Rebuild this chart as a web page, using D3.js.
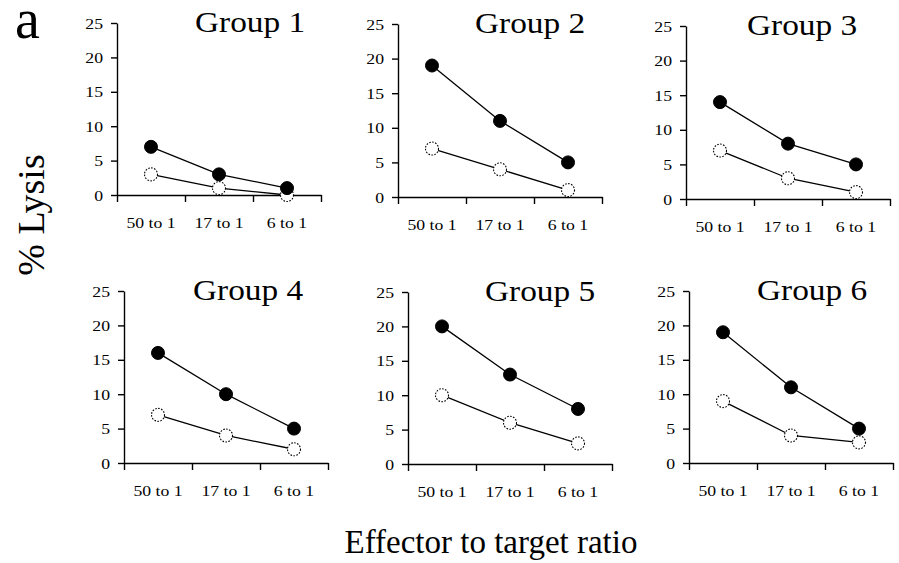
<!DOCTYPE html>
<html>
<head>
<meta charset="utf-8">
<script src="https://cdn.jsdelivr.net/npm/d3@7"></script>
<style>
  body { margin: 0; background: #fff; }
  svg text { font-family: "Liberation Serif", "Times New Roman", serif; fill: #000; }
</style>
</head>
<body>
<svg id="chart" width="899" height="563"></svg>
<script>
// data
var groups = ["Group 1", "Group 2", "Group 3", "Group 4", "Group 5", "Group 6"];
var ratios = ["50 to 1", "17 to 1", "6 to 1"];
var yTicks = [0, 5, 10, 15, 20, 25];
var filledVals = [
  [7, 3, 1],
  [19, 11, 5],
  [14, 8, 5],
  [16, 10, 5],
  [20, 13, 8],
  [19, 11, 5]
];
var openVals = [
  [3, 1, 0],
  [7, 4, 1],
  [7, 3, 1],
  [7, 4, 2],
  [10, 6, 3],
  [9, 4, 3]
];

// panel layout: left, right, top (25), bottom (0), title offset
var layout = [
  {x0: 117, x1: 321, top: 23, bot: 195, tx: 78},
  {x0: 398, x1: 602, top: 24, bot: 197, tx: 77},
  {x0: 686, x1: 890, top: 26, bot: 199, tx: 61},
  {x0: 124, x1: 328, top: 291, bot: 463, tx: 69},
  {x0: 408, x1: 612, top: 292, bot: 464, tx: 77},
  {x0: 689, x1: 893, top: 291, bot: 463, tx: 68}
];

var svg = d3.select("#chart"),
    sx = 1.18,   // the figure is stretched sideways
    r = 6.5;

groups.forEach(function (name, i) {
  var p = layout[i];
  var g = svg.append("g");

  var y = d3.scaleLinear().domain([0, 25]).range([p.bot, p.top]);
  var xb = d3.scaleLinear().domain([0, ratios.length]).range([p.x0, p.x1]);
  var x = d3.scaleBand().domain(ratios).range([p.x0, p.x1]);

  // y axis
  var ya = g.append("g")
      .attr("transform", "translate(" + p.x0 + ",0)")
      .call(d3.axisLeft(y).tickValues(yTicks).tickSize(6).tickSizeOuter(0).tickPadding(8));
  ya.selectAll("text").remove();
  ya.selectAll(".tick").append("text")
      .attr("transform", "translate(-14,0) scale(" + sx + ",1)")
      .attr("text-anchor", "end")
      .attr("dy", "0.34em")
      .style("font-size", "15px")
      .text(function (d) { return d; });

  // x axis, ticks on the category boundaries
  g.append("g")
      .attr("transform", "translate(0," + p.bot + ")")
      .call(d3.axisBottom(xb).tickValues(d3.range(ratios.length + 1)).tickSize(7).tickSizeOuter(0).tickFormat(""));

  g.selectAll(".domain, .tick line").attr("stroke", "#000").attr("stroke-width", 1.4);

  g.selectAll(".xlab").data(ratios).enter().append("text")
      .attr("class", "xlab")
      .attr("transform", function (d) {
        return "translate(" + (x(d) + x.bandwidth() / 2) + "," + (p.bot + 33) + ") scale(" + sx + ",1)";
      })
      .attr("text-anchor", "middle")
      .style("font-size", "15px")
      .text(function (d) { return d; });

  // title
  g.append("text")
      .attr("transform", "translate(" + (p.x0 + p.tx) + "," + (p.top + 9) + ") scale(1.15,1)")
      .style("font-size", "29px")
      .text(name);

  var line = d3.line()
      .x(function (d, j) { return x(ratios[j]) + x.bandwidth() / 2; })
      .y(function (d) { return y(d); });

  [openVals[i], filledVals[i]].forEach(function (vals, k) {
    g.append("path")
        .datum(vals)
        .attr("d", line)
        .attr("fill", "none")
        .attr("stroke", "#000")
        .attr("stroke-width", 1.3);

    g.selectAll(".pt" + k).data(vals).enter().append("circle")
        .attr("class", "pt" + k)
        .attr("cx", function (d, j) { return x(ratios[j]) + x.bandwidth() / 2; })
        .attr("cy", function (d) { return y(d); })
        .attr("r", r)
        .attr("fill", k ? "#000" : "#fff")
        .attr("stroke", "#000")
        .attr("stroke-width", k ? 1 : 1.1)
        .attr("stroke-dasharray", k ? null : "1.6,1.4");
  });
});

// panel letter and shared labels
svg.append("text")
    .attr("x", 15).attr("y", 38)
    .style("font-size", "56px")
    .text("a");

svg.append("text")
    .attr("transform", "translate(44,215) rotate(-90)")
    .attr("text-anchor", "middle")
    .style("font-size", "38px")
    .text("% Lysis");

svg.append("text")
    .attr("x", 491).attr("y", 553)
    .attr("text-anchor", "middle")
    .style("font-size", "33px")
    .text("Effector to target ratio");
</script>
</body>
</html>
